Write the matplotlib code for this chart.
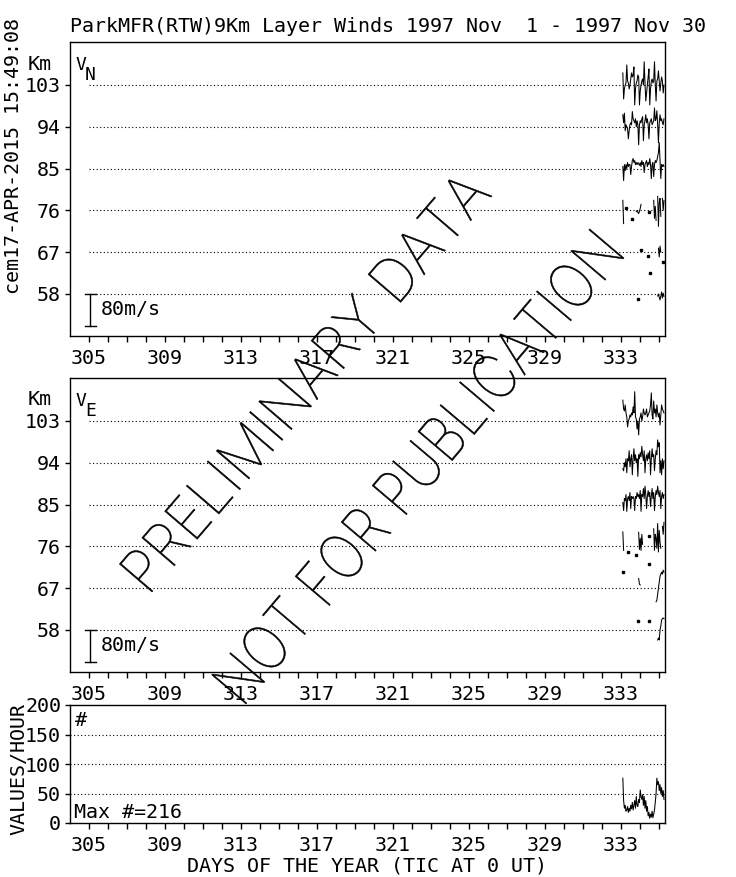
import numpy as np
import matplotlib
matplotlib.use('Agg')
import matplotlib.pyplot as plt
from matplotlib.textpath import TextPath
from matplotlib.patches import PathPatch
from matplotlib.font_manager import FontProperties, fontManager, weight_dict
from matplotlib.transforms import Affine2D

plt.rcParams['font.family'] = ['DejaVu Sans Mono']
plt.rcParams['font.size'] = 14.4

W, H = 736, 877

title = "ParkMFR(RTW)9Km Layer Winds 1997 Nov  1 - 1997 Nov 30"
stamp = "cem17-APR-2015 15:49:08"
xlabel = "DAYS OF THE YEAR (TIC AT 0 UT)"
heights = [103, 94, 85, 76, 67, 58]
day_ticks = [305, 309, 313, 317, 321, 325, 329, 333]
count_ticks = [0, 50, 100, 150, 200]
start_day = 333.1      # first hourly sample
nan = np.nan

# VN (m/s), hourly, one list per height
vn_103 = [30, -35, -10, 0, 5, 50, 10, 5, -10, 0, 15, 30, 20, 25, 45, -50, -10, 5, 10, 25,
          20, -50, -15, 0, 10, 15, 0, 58, 5, -40, -20, 0, 20, 40, -50, -10, 10, 15, 5, 10,
          58, 0, -40, 10, 15, 35, 10, -15, 5, 20, 10, -20, 0]
vn_94 = [30, 10, 34, -10, 5, 0, -5, -30, -10, 5, 10, 5, 38, 20, 15, 10, 20, 0, 15, 5,
         -45, 5, 15, 10, 20, 25, -35, 5, 15, 30, 10, 20, 5, -30, 10, 15, 20, 5, 10, 15,
         47, 15, 20, 40, 5, -40, 10, 30, 15, 20, 10, 5, 20]
vn_85 = [5, -30, 10, -5, 10, 0, 15, 5, 10, 10, -15, 5, 20, 25, 15, 20, 10, 15, 10, 15,
         12, 8, 15, 5, 20, 10, 15, -10, 10, 15, 20, 5, 15, 10, 25, 10, -25, 10, 15, -20,
         10, 20, 15, 20, 30, 40, 65, 20, -25, 10, 5, 10, 5]
vn_76 = [25, -33, nan, nan, 6, nan, nan, nan, nan, nan, nan, -22, nan, nan, nan, nan, nan, -3, 0, -5,
         -8, -2, 5, 15, nan, nan, nan, nan, nan, nan, nan, nan, nan, -4, nan, nan, nan, nan, nan, 25,
         -20, 10, -25, nan, 35, -40, 20, 30, -15, nan, 30, 0, 25]
vn_67 = [nan, nan, nan, nan, nan, nan, nan, nan, nan, nan, nan, nan, nan, nan, nan, nan, nan, nan, nan, nan,
         nan, nan, nan, 5, nan, nan, nan, nan, nan, nan, nan, nan, -9, nan, -53, nan, nan, nan, nan, nan,
         nan, nan, nan, nan, nan, 10, -12, 15, 0, nan, nan, -24, nan]
vn_58 = [nan, nan, nan, nan, nan, nan, nan, nan, nan, nan, nan, nan, nan, nan, nan, nan, nan, nan, nan, -13,
         nan, nan, nan, nan, nan, nan, nan, nan, nan, nan, nan, nan, nan, nan, nan, nan, nan, nan, nan, nan,
         nan, nan, nan, nan, -5, 0, -8, -15, -5, 5, -10, 2, -6]

# VE (m/s)
ve_103 = [52, 30, 25, 40, 20, 10, -15, 0, 5, 15, 10, 20, 15, 35, 20, 73, 10, 5, -20, 0,
          -35, 5, 10, 20, 0, 10, 30, 20, 15, 20, 30, 10, 15, 20, 25, 40, 70, 15, 5, 50,
          20, 30, 10, 40, 20, 10, 20, -10, 15, 40, 30, 25, 20]
ve_94 = [-15, -20, 0, -10, 10, -25, 10, 5, 30, -10, 10, 20, -30, 10, 35, 5, 20, 0, 10, -34,
         20, 10, 25, 15, 41, 20, 5, 30, -25, 10, 20, 5, 25, 10, 30, -30, 10, 35, 15, 20,
         -20, 10, 30, 20, 57, 40, 50, -25, 5, -30, 10, -15, 5]
ve_85 = [5, -15, 15, 10, 25, -17, 15, 20, 10, 30, -10, 20, 15, 20, 15, -15, 20, 15, 30, 20,
         25, 15, 35, -17, 25, 20, 40, 15, 46, 25, -10, 20, 35, 20, 30, -5, 20, 40, 15, 30,
         -15, 20, 35, 25, 46, 30, 20, 35, -10, 20, 30, 15, 25]
ve_76 = [36, -10, nan, nan, nan, nan, -14, nan, nan, nan, nan, nan, nan, nan, nan, nan, nan, -22, nan, nan,
         35, -8, 20, -10, 30, 5, nan, nan, nan, nan, nan, nan, nan, 27, nan, nan, nan, nan, nan, 44,
         -10, 30, 20, -5, 57, -14, 40, 10, -5, nan, 50, 30, 60]
ve_67 = [41, nan, nan, nan, nan, nan, nan, nan, nan, nan, nan, nan, nan, nan, nan, nan, nan, nan, nan, nan,
         24, 10, 8, nan, nan, nan, nan, nan, nan, nan, nan, nan, nan, 60, nan, nan, nan, nan, nan, nan,
         nan, nan, -34, -30, -15, 0, 15, 30, 35, 40, 35, 45, 40]
ve_58 = [nan, nan, nan, nan, nan, nan, nan, nan, nan, nan, nan, nan, nan, nan, nan, nan, nan, nan, nan, 22,
         nan, nan, nan, nan, nan, nan, nan, nan, nan, nan, nan, nan, nan, 22, nan, nan, nan, nan, nan, nan,
         nan, nan, nan, nan, -25, -20, -25, 0, 10, 25, 28, 30, 28]

# values per hour
counts = [76, 38, 25, 30, 20, 22, 28, 18, 25, 20, 30, 24, 35, 22, 30, 38, 25, 45, 30, 28,
          40, 35, 56, 45, 40, 48, 30, 45, 25, 38, 20, 28, 12, 18, 8, 15, 10, 20, 9, 15,
          22, 35, 50, 76, 65, 70, 55, 65, 50, 60, 45, 55, 40]

vn_traces = [vn_103, vn_94, vn_85, vn_76, vn_67, vn_58]
ve_traces = [ve_103, ve_94, ve_85, ve_76, ve_67, ve_58]

XMIN, XMAX = 304, 335.32
KM_PER_MS = 6.9 / 80.0     # 80 m/s scale bar = 6.9 km
DOT = (0, (1, 2.2))


def fx(x):
    return x / W


def fy(y):
    return 1 - y / H


def hours(n):
    return start_day + np.arange(n) / 24.0


def draw_trace(ax, base, vals, scale):
    v = np.array(vals, dtype=float)
    t = hours(len(v))
    y = base + v * scale
    ax.plot(t, y, color='k', lw=0.75, zorder=3)
    # single samples with no neighbours show up as dots
    prev = np.r_[nan, v[:-1]]
    nxt = np.r_[v[1:], nan]
    iso = ~np.isnan(v) & np.isnan(prev) & np.isnan(nxt)
    ax.plot(t[iso], y[iso], 's', color='k', ms=1.6, zorder=3)


def setup_x(ax):
    ax.set_xlim(XMIN, XMAX)
    ax.set_xticks(day_ticks)
    ax.set_xticklabels([str(d) for d in day_ticks])
    ax.set_xticks(np.arange(305, 336), minor=True)
    ax.tick_params(axis='x', which='both', direction='out', length=4.3, width=1,
                   pad=5, top=False)
    ax.tick_params(axis='y', which='both', direction='out', length=3.6, width=1,
                   pad=2.8, right=False)
    for s in ax.spines.values():
        s.set_linewidth(1.0)


def wind_panel(ax, traces, comp, ytop):
    setup_x(ax)
    ax.set_ylim(48.95, 112.25)
    ax.set_yticks(heights)
    ax.hlines(heights, 305, XMAX, colors='k', linestyles=DOT, lw=0.8, zorder=1)
    for h, tr in zip(heights, traces):
        draw_trace(ax, h, tr, KM_PER_MS)
    # 80 m/s scale bar
    bar = 80 * KM_PER_MS
    ax.plot([305.05, 305.05], [58, 58 - bar], color='k', lw=1)
    ax.plot([304.78, 305.35], [58, 58], color='k', lw=1)
    ax.plot([304.78, 305.35], [58 - bar, 58 - bar], color='k', lw=1)
    ax.text(305.6, 58 - bar / 2, '80m/s', ha='left', va='center')
    fig.text(fx(40), fy(ytop + 22), 'Km', ha='center', va='center')
    fig.text(fx(75), fy(ytop + 14), 'V', ha='left', va='top', fontsize=13)
    fig.text(fx(85), fy(ytop + 24), comp, ha='left', va='top', fontsize=13)


def light_font():
    best = None
    for f in fontManager.ttflist:
        if f.name in ('Roboto', 'Lato', 'Open Sans', 'Noto Sans', 'Inter') and f.style == 'normal':
            w = f.weight
            if isinstance(w, str):
                w = weight_dict.get(w, 400)
            if best is None or w < best[0]:
                best = (w, f.fname)
    if best is None:
        return FontProperties(family='DejaVu Sans')
    return FontProperties(fname=best[1])


def watermark(fig, s, start, end, cap, prop):
    tp = TextPath((0, 0), s, size=1, prop=prop)
    bb = tp.get_extents()
    cap_h = TextPath((0, 0), 'H', size=1, prop=prop).get_extents().height
    (x0, y0), (x1, y1) = start, end
    length = np.hypot(x1 - x0, y1 - y0)
    ang = np.degrees(np.arctan2(y0 - y1, x1 - x0))
    tr = (Affine2D().translate(-bb.x0, 0)
          .scale(length / bb.width, cap / cap_h)
          .rotate_deg(ang).translate(x0, H - y0))
    fig.add_artist(PathPatch(tp, transform=tr, facecolor='k', edgecolor='k',
                             lw=0.4, zorder=10))


fig = plt.figure(figsize=(W / 100, H / 100), dpi=100)

ax1 = fig.add_axes([fx(70), fy(336), fx(595), (336 - 42) / H])
ax2 = fig.add_axes([fx(70), fy(672), fx(595), (672 - 378) / H])
ax3 = fig.add_axes([fx(70), fy(823), fx(595), (823 - 705) / H])

wind_panel(ax1, vn_traces, 'N', 42)
wind_panel(ax2, ve_traces, 'E', 378)

# data count panel
setup_x(ax3)
ax3.set_ylim(0, 200)
ax3.set_yticks(count_ticks)
ax3.hlines([50, 100, 150], XMIN, XMAX, colors='k', linestyles=DOT, lw=0.8, zorder=1)
draw_trace(ax3, 0, counts, 1.0)
fig.text(fx(75), fy(720), '#', ha='left', va='center')
fig.text(fx(74), fy(812), 'Max #=216', ha='left', va='center')

fig.text(fx(70), fy(26), title, ha='left', va='center')
fig.text(fx(14), fy(156), stamp, ha='center', va='center', rotation=90)
fig.text(fx(19), fy(769), 'VALUES/HOUR', ha='center', va='center', rotation=90)
fig.text(fx(367), fy(866), xlabel, ha='center', va='center')

# watermark
prop = light_font()
watermark(fig, 'PRELIMINARY DATA', (152, 592), (492, 196), 43, prop)
watermark(fig, 'NOT FOR PUBLICATION', (246, 704), (624, 258), 45, prop)

fig.savefig('out.png', dpi=100)
